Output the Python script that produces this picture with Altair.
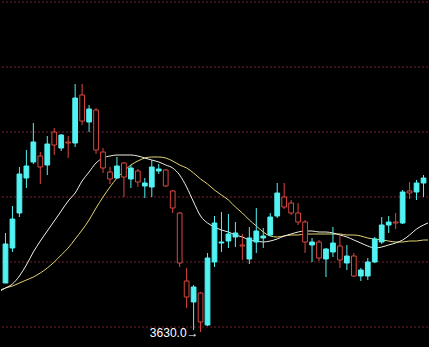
import altair as alt
import pandas as pd

# ---- data ----
opens  = [3679,3714,3749,3784,3800,3806,3797,3830,3814,3820,
          3819,3867,3840,3852,3810,3790,3784,3799,3783,3791,
          3776,3775,3791,3792,3771,3749,3681,3660,3669,3637,
          3700,3719,3721,3725,3717,3703,3720,3724,3727,3746,
          3765,3759,3749,3740,3717,3720,3703,3710,3716,3699,
          3706,3686,3686,3700,3720,3737,3740,3739,3771,3770,
          3779]
highs  = [3729,3756,3795,3812,3839,3810,3826,3834,3828,3826,
          3878,3878,3857,3854,3814,3795,3805,3800,3797,3793,
          3784,3802,3798,3793,3772,3750,3694,3677,3670,3709,
          3746,3750,3748,3740,3728,3735,3754,3734,3749,3779,
          3779,3762,3759,3742,3724,3722,3714,3735,3727,3717,
          3709,3694,3704,3725,3745,3746,3749,3772,3780,3782,
          3787]
lows   = [3679,3710,3745,3774,3798,3778,3787,3807,3811,3804,
          3815,3837,3830,3808,3789,3778,3783,3765,3774,3775,
          3764,3765,3788,3775,3749,3695,3654,3632,3630,3636,
          3695,3710,3714,3715,3702,3698,3709,3714,3726,3744,
          3753,3747,3737,3709,3700,3701,3685,3705,3694,3692,
          3685,3681,3682,3699,3718,3729,3733,3738,3763,3762,
          3765]
closes = [3718,3743,3788,3796,3820,3795,3818,3817,3827,3819,
          3864,3841,3853,3812,3794,3783,3796,3785,3794,3780,
          3779,3795,3793,3776,3754,3699,3665,3675,3640,3704,
          3739,3720,3728,3729,3716,3724,3731,3726,3745,3769,
          3755,3749,3740,3720,3720,3704,3713,3719,3702,3706,
          3686,3692,3700,3723,3737,3740,3739,3770,3769,3779,
          3784]

# moving averages, index -1 .. 61 (first and last lie just outside the view)
ma_short = [3670,
            3674,3678,3686,3697,3710,3721,3731,3741,3751,3761,
            3769,3781,3790,3799,3804,3806,3807,3807,3807,3806,
            3804,3802,3800,3797,3794,3787,3775,3760,3746,3739,
            3735,3732,3730,3727,3725,3722,3721,3720,3721,3723,
            3726,3728,3730,3731,3731,3730,3730,3729,3727,3725,
            3722,3719,3716,3714,3715,3717,3719,3722,3727,3733,
            3737,
            3740]
ma_long = [3671,
           3674,3676,3679,3682,3685,3689,3694,3700,3707,3714,
           3723,3732,3742,3754,3765,3775,3784,3791,3797,3801,
           3804,3805,3805,3804,3801,3797,3794,3789,3783,3778,
           3772,3767,3762,3755,3749,3742,3736,3730,3726,3725,
           3726,3727,3727,3728,3728,3728,3728,3728,3728,3727,
           3727,3726,3724,3723,3722,3721,3720,3720,3721,3721,
           3722,
           3722]

grid_levels = [3635, 3700, 3765, 3830, 3895, 3960]

# ---- styling ----
CYAN = "#52f2f2"
RED = "#d9473f"
GRID = "#7a1f2c"
WHITE_MA = "#f0f0e4"
YELLOW_MA = "#e2d674"

n = len(opens)
candles = pd.DataFrame({
    "i": list(range(n)),
    "open": opens, "high": highs, "low": lows, "close": closes,
})
candles["dir"] = ["up" if c >= o else "down" for o, c in zip(opens, closes)]

ma_df = pd.DataFrame({
    "i": list(range(-1, n + 1)),
    "short": ma_short,
    "long": ma_long,
})

min_low = min(lows)
min_i = lows.index(min_low)
label_df = pd.DataFrame({"i": [min_i], "v": [min_low], "t": [f"{min_low:.1f}→"]})
grid_df = pd.DataFrame({"v": grid_levels})

xs = alt.Scale(domain=[-0.643, 60.643], nice=False, zero=False)
ys = alt.Scale(domain=[3615, 3962], nice=False, zero=False)
dir_color = alt.Scale(domain=["up", "down"], range=[CYAN, RED])
dir_fill = alt.Scale(domain=["up", "down"], range=[CYAN, "#000000"])

grid = alt.Chart(grid_df).mark_rule(
    color=GRID, strokeWidth=1, strokeDash=[2, 2]
).encode(y=alt.Y("v:Q", scale=ys, axis=None))

wicks = alt.Chart(candles).mark_rule(strokeWidth=1).encode(
    x=alt.X("i:Q", scale=xs, axis=None),
    y=alt.Y("low:Q", scale=ys, axis=None),
    y2="high:Q",
    color=alt.Color("dir:N", scale=dir_color, legend=None),
)

bodies = alt.Chart(candles).transform_calculate(
    x0="datum.i - 0.34", x1="datum.i + 0.34"
).mark_rect(strokeWidth=1).encode(
    x=alt.X("x0:Q", scale=xs, axis=None),
    x2="x1:Q",
    y=alt.Y("open:Q", scale=ys, axis=None),
    y2="close:Q",
    fill=alt.Fill("dir:N", scale=dir_fill, legend=None),
    stroke=alt.Stroke("dir:N", scale=dir_color, legend=None),
)

line_short = alt.Chart(ma_df).mark_line(
    color=WHITE_MA, strokeWidth=1, clip=True, interpolate="monotone"
).encode(
    x=alt.X("i:Q", scale=xs, axis=None),
    y=alt.Y("short:Q", scale=ys, axis=None),
)

line_long = alt.Chart(ma_df).mark_line(
    color=YELLOW_MA, strokeWidth=1, clip=True, interpolate="monotone"
).encode(
    x=alt.X("i:Q", scale=xs, axis=None),
    y=alt.Y("long:Q", scale=ys, axis=None),
)

label = alt.Chart(label_df).mark_text(
    align="right", baseline="middle", dx=-2, dy=1,
    color="#ffffff", fontSize=12, font="Liberation Sans"
).encode(
    x=alt.X("i:Q", scale=xs, axis=None),
    y=alt.Y("v:Q", scale=ys, axis=None),
    text="t:N",
)

chart = alt.layer(grid, line_long, line_short, wicks, bodies, label).properties(
    width=429, height=347,
    autosize=alt.AutoSizeParams(type="fit", contains="padding"),
    padding=0,
    background="#000000",
).configure_view(stroke=None)

chart.save("out.html", embed_options={"renderer": "svg", "actions": False})
